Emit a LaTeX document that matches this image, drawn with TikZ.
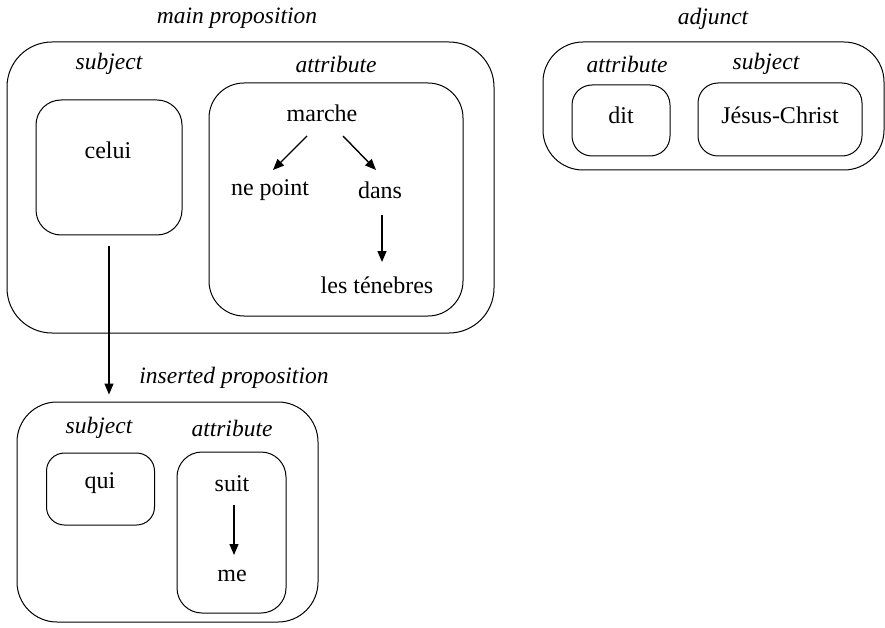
\documentclass[tikz,border=0pt]{standalone}
\usepackage{fontspec}
\setmainfont{Liberation Serif}
\usetikzlibrary{arrows.meta,calc}
\begin{document}
\begin{tikzpicture}[x=1pt,y=-1pt,
  box/.style={draw,line width=1pt,rectangle,inner sep=0pt},
  txt/.style={inner sep=0pt,font=\fontsize{24}{28}\selectfont},
  lab/.style={inner sep=0pt,font=\fontsize{23.5}{28}\selectfont\itshape},
  arr/.style={line width=1.4pt,-{Triangle[length=11pt,width=9pt]}}]
\useasboundingbox (0,0) rectangle (885,628);
% main proposition
\node[lab] (mainlab) at (237,18) {main proposition};
\node[box,rounded corners=45pt,minimum width=487pt,minimum height=291pt] (main) at (250.5,187.5) {};
\node[lab] (msubj) at (109,64) {subject};
\node[lab] (mattr) at (336,64) {attribute};
\node[box,rounded corners=25pt,minimum width=146pt,minimum height=135pt] (celuibox) at (109,167.5) {};
\node[txt] (celui) at (108,150) {celui};
\node[box,rounded corners=35pt,minimum width=254pt,minimum height=233pt] (mattrbox) at (336,199.5) {};
\node[txt] (marche) at (322,113) {marche};
\node[txt] (nepoint) at (270,190) {ne point};
\node[txt] (dans) at (380,190) {dans};
\node[txt] (les) at (377,285) {les ténebres};
\draw[arr] ($(marche)+(-15,23)$) -- ($(nepoint)+(3,-20)$);
\draw[arr] ($(marche)+(21,23)$) -- ($(dans)+(-4,-20)$);
\draw[arr] ($(dans)+(2,25)$) -- ($(dans)+(2,72)$);
% inserted proposition
\node[lab] (inslab) at (234,378) {inserted proposition};
\node[box,rounded corners=40pt,minimum width=301pt,minimum height=220pt] (ins) at (167.5,512) {};
\node[lab] (isubj) at (99,428) {subject};
\node[lab] (iattr) at (232,428) {attribute};
\node[box,rounded corners=18pt,minimum width=108pt,minimum height=72pt] (quibox) at (100.5,489) {};
\node[txt] (qui) at (100,483) {qui};
\node[box,rounded corners=25pt,minimum width=109pt,minimum height=161pt] (suitbox) at (231.5,532.5) {};
\node[txt] (suit) at (232,484) {suit};
\node[txt] (me) at (232,576) {me};
\draw[arr] ($(suit)+(2,21)$) -- ($(me)+(2,-21)$);
% connector celui -> inserted
\draw[arr] ([yshift=-10pt]celuibox.south) -- ([yshift=7pt]celuibox.south |- ins.north);
% adjunct
\node[lab] (adjlab) at (713,19) {adjunct};
\node[box,rounded corners=40pt,minimum width=341pt,minimum height=128pt] (adj) at (713.5,106) {};
\node[lab] (aattr) at (627,64) {attribute};
\node[lab] (asubj) at (766,64) {subject};
\node[box,rounded corners=20pt,minimum width=98pt,minimum height=71pt] (ditbox) at (621,120.5) {};
\node[txt] (dit) at (621,115) {dit};
\node[box,rounded corners=20pt,minimum width=164pt,minimum height=73pt] (jcbox) at (780,119.5) {};
\node[txt] (jc) at (780,115) {Jésus-Christ};
\end{tikzpicture}
\end{document}
